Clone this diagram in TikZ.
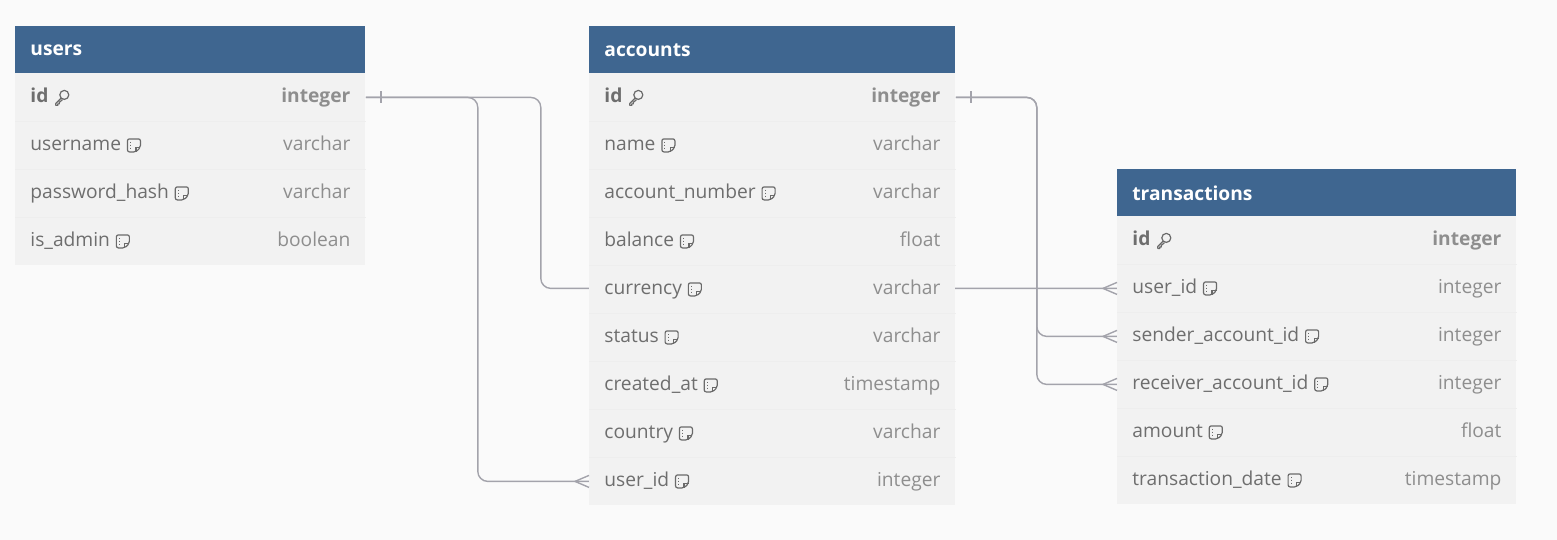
\documentclass[tikz,border=0pt]{standalone}
\usepackage{fontspec}
\setmainfont{Open Sans}
\usetikzlibrary{positioning, calc}

\definecolor{headblue}{HTML}{3F6690}
\definecolor{rowgray}{HTML}{F2F2F2}
\definecolor{sepgray}{HTML}{EEEEEE}
\definecolor{paperbg}{HTML}{FAFAFA}
\definecolor{fieldgray}{HTML}{6E6E6E}
\definecolor{typegray}{HTML}{8E8E8E}
\definecolor{icongray}{HTML}{6A6A6A}
\definecolor{linkgray}{HTML}{A3A3AB}

\pgfdeclarelayer{paper}
\pgfdeclarelayer{links}
\pgfsetlayers{paper,links,main}

\newcommand{\rowfont}{\fontsize{9.6}{11}\selectfont}

\tikzset{
  headbox/.style={fill=headblue, minimum height=23.5pt, inner sep=0pt, anchor=north west},
  headtext/.style={text=white, font=\rowfont\bfseries, anchor=west, inner sep=0pt},
  rowbox/.style={fill=rowgray, minimum height=24pt, inner sep=0pt, anchor=north west},
  fieldtext/.style={text=fieldgray, font=\rowfont, anchor=west, inner sep=0pt,
    text height=7pt, text depth=2pt},
  typetext/.style={text=typegray, font=\rowfont, anchor=east, inner sep=0pt,
    text height=7pt, text depth=2pt},
  keyfield/.style={fieldtext, font=\rowfont\bfseries},
  keytype/.style={typetext, font=\rowfont\bfseries},
  relline/.style={draw=linkgray, line width=0.7pt, rounded corners=5pt},
  noteicon/.pic={
    \draw[icongray, line width=0.6pt, rounded corners=1pt]
      (0,-6.5) -- (13,-6.5) -- (13,2) -- (8.5,6.5) -- (0,6.5) -- cycle;
    \draw[icongray, line width=0.6pt] (8.5,6.5) -- (8.5,2) -- (13,2);
    \draw[icongray, line width=0.5pt, dash pattern=on 0.6pt off 0.8pt] (3,-3.5) -- (3,4);
  },
  keyicon/.pic={
    \draw[icongray, line width=0.6pt] (9.5,-2.5) circle[radius=4.5];
    \draw[icongray, line width=0.6pt, line join=round]
      (6.2,0.8) -- (1,6) -- (1,8) -- (3,8) -- (3,6.5) -- (4.5,6.5) -- (4.5,5) -- (7.7,2.2);
  }
}

% Zeilen einer Tabelle: Name, links, oben, Breite, Liste
\newcommand{\tablerows}[5]{%
  \foreach \n/\f/\t [count=\k] in {#5} {
    \node[rowbox, minimum width=#4*0.5pt] (#1-\n) at (#2, #3+48*\k-48) {};
    \ifnum\k=1
      \node[keyfield] (#1-\n-f) at ([xshift=7.5pt]#1-\n.west) {\f};
      \pic at ([xshift=3pt]#1-\n-f.east) {keyicon};
      \node[keytype] at ([xshift=-7.5pt]#1-\n.east) {\t};
    \else
      \draw[sepgray, line width=0.4pt] (#1-\n.north west) -- (#1-\n.north east);
      \node[fieldtext] (#1-\n-f) at ([xshift=7.5pt]#1-\n.west) {\f};
      \pic at ([xshift=3pt]#1-\n-f.east) {noteicon};
      \node[typetext] at ([xshift=-7.5pt]#1-\n.east) {\t};
    \fi
  }
}

\newcommand{\onemark}[1]{\draw[relline] (#1.east) ++(15,-6) -- ++(0,12);}
\newcommand{\manymark}[1]{\draw[relline] (#1.west) ++(-14,0) -- ++(14,-6) ++(-14,6) -- ++(14,6);}

\begin{document}
\begin{tikzpicture}[x = 0.5pt, y = -0.5pt]

    % Hintergrund
    \useasboundingbox (0,0) rectangle (1557,540);
    \begin{pgfonlayer}{paper}
      \fill[paperbg] (0,0) rectangle (1557,540);
    \end{pgfonlayer}

    % Tabelle users
    \node[headbox, minimum width=175pt] (users) at (15,26) {};
    \node[headtext] at ([xshift=7.5pt]users.west) {users};
    \tablerows{users}{15}{73}{350}{id/id/integer, username/username/varchar,
      password_hash/password\_hash/varchar, is_admin/is\_admin/boolean}

    % Tabelle accounts
    \node[headbox, minimum width=183pt] (accounts) at (589,26) {};
    \node[headtext] at ([xshift=7.5pt]accounts.west) {accounts};
    \tablerows{accounts}{589}{73}{366}{id/id/integer, name/name/varchar,
      account_number/account\_number/varchar, balance/balance/float,
      currency/currency/varchar, status/status/varchar,
      created_at/created\_at/timestamp, country/country/varchar,
      user_id/user\_id/integer}

    % Tabelle transactions
    \node[headbox, minimum width=199.5pt] (transactions) at (1117,169) {};
    \node[headtext] at ([xshift=7.5pt]transactions.west) {transactions};
    \tablerows{transactions}{1117}{216}{399}{id/id/integer, user_id/user\_id/integer,
      sender_account_id/sender\_account\_id/integer,
      receiver_account_id/receiver\_account\_id/integer,
      amount/amount/float, transaction_date/transaction\_date/timestamp}

    % Beziehungen (hinter den Tabellen)
    \begin{pgfonlayer}{links}
      \draw[relline] (users-id.east) -- ++(175,0) |- (transactions-user_id.west);
      \draw[relline] (users-id.east) -- ++(112,0) |- (accounts-user_id.west);
      \draw[relline] (accounts-id.east) -- ++(81,0) |- (transactions-sender_account_id.west);
      \draw[relline] (accounts-id.east) -- ++(81,0) |- (transactions-receiver_account_id.west);
    \end{pgfonlayer}

    % Kardinalitaeten
    \onemark{users-id}
    \onemark{accounts-id}
    \manymark{accounts-user_id}
    \manymark{transactions-user_id}
    \manymark{transactions-sender_account_id}
    \manymark{transactions-receiver_account_id}

\end{tikzpicture}
\end{document}
